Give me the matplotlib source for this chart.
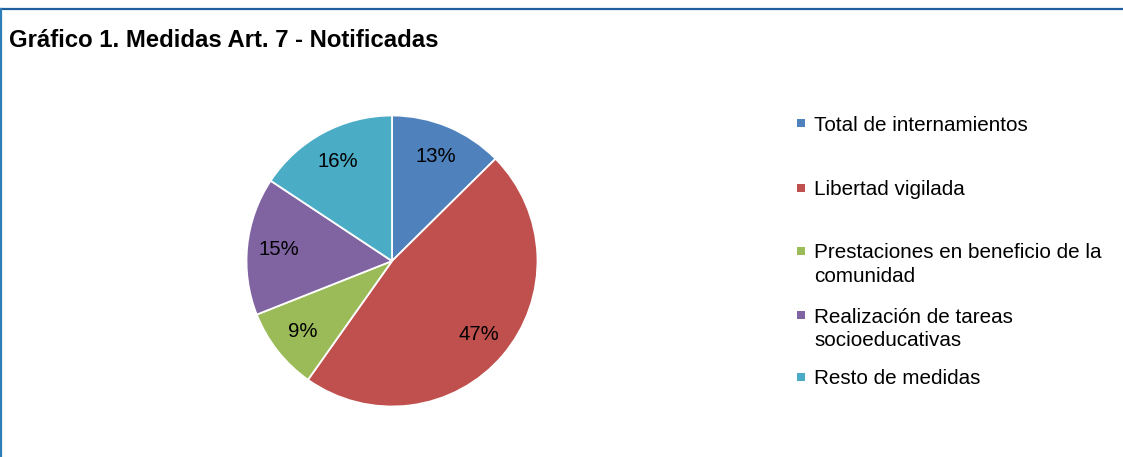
import matplotlib
matplotlib.use("Agg")
import matplotlib.pyplot as plt
from matplotlib.lines import Line2D
from matplotlib.patches import Rectangle

categories = ["Total de internamientos", "Libertad vigilada",
              "Prestaciones en beneficio de la\ncomunidad",
              "Realización de tareas\nsocioeducativas", "Resto de medidas"]
values = [12.6, 47.2, 9.2, 15.3, 15.7]
colors = ["#4F81BD", "#C0504D", "#9BBB59", "#8064A2", "#4BACC6"]
title = "Gráfico 1. Medidas Art. 7 - Notificadas"

W, H = 1123, 457
plt.rcParams['font.family'] = ['Liberation Sans', 'DejaVu Sans']
fig = plt.figure(figsize=(W / 100, H / 100), dpi=100)
fig.patch.set_facecolor("white")

# frame lines
fig.add_artist(Line2D([0, 1122 / W], [1 - 9 / H, 1 - 9 / H], color="#1F5F9E", lw=1.6,
                      transform=fig.transFigure))
fig.add_artist(Line2D([0.8 / W, 0.8 / W], [0, 1 - 9 / H], color="#2E7DB8", lw=1.6,
                      transform=fig.transFigure))

fig.text(9 / W, 1 - 46.7 / H, title, fontsize=17.2, fontweight="bold",
         ha="left", va="baseline", color="black")

# pie
cx, cy, R = 392, H - 261, 145.5
ax = fig.add_axes([(cx - R) / W, (cy - R) / H, 2 * R / W, 2 * R / H])
wedges, texts, autotexts = ax.pie(values, colors=colors, startangle=90, counterclock=False,
                                  autopct="%.0f%%", pctdistance=0.78,
                                  wedgeprops=dict(edgecolor="white", linewidth=1.3),
                                  textprops=dict(fontsize=14.6, color="black"))
ax.set_xlim(-1, 1)
ax.set_ylim(-1, 1)
ax.set_aspect("equal")
ax.axis("off")

# legend (manual layout)
line_step = 23.3
baselines = [130.7, 195.0, 258.3, 322.7, 384.0]
square_centers = [123.3, 187.5, 250.5, 314.5, 377.0]
for lab, col, yb, ys in zip(categories, colors, baselines, square_centers):
    fig.add_artist(Rectangle((797 / W, 1 - (ys + 4) / H), 8 / W, 8 / H,
                             facecolor=col, edgecolor="none", transform=fig.transFigure))
    for k, line in enumerate(lab.split("\n")):
        fig.text(814 / W, 1 - (yb + k * line_step) / H, line, fontsize=14.9,
                 ha="left", va="baseline", color="black")

fig.savefig("out.png", dpi=100, facecolor="white")
